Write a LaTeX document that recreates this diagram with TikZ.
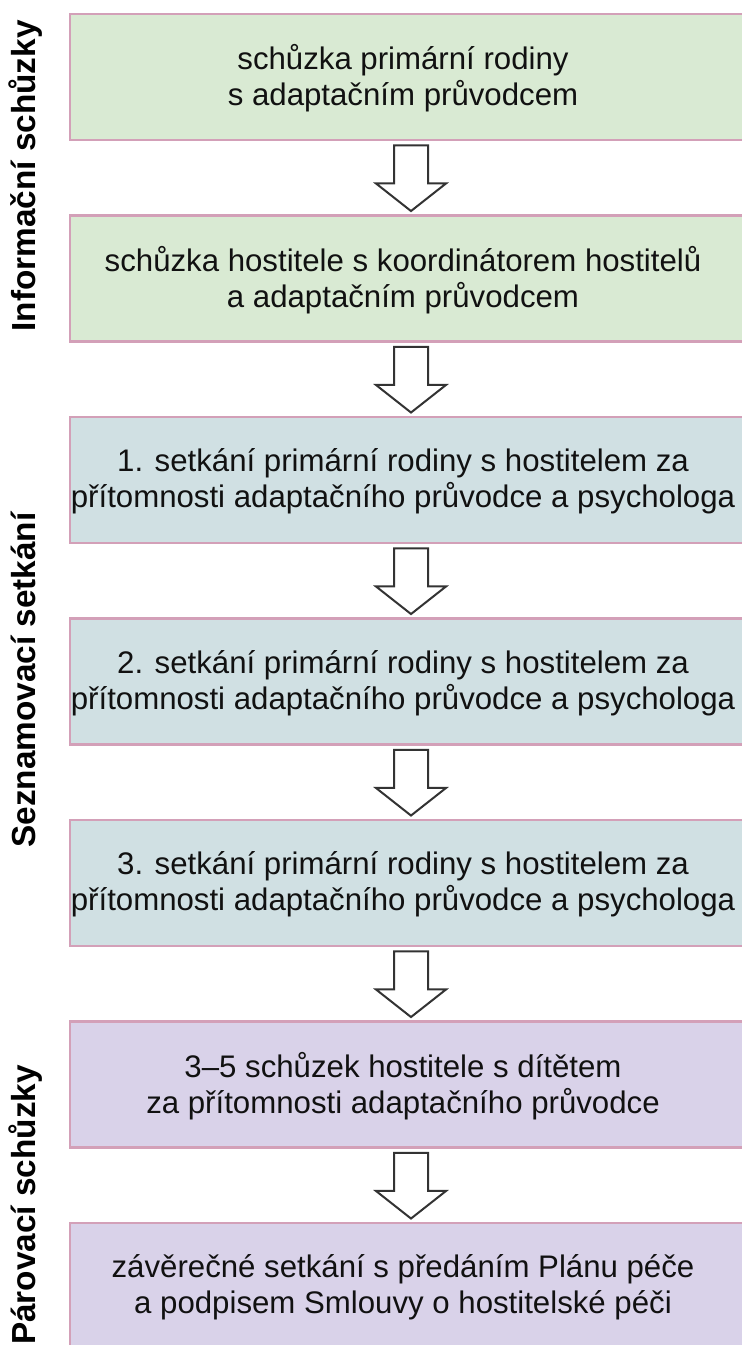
\documentclass[tikz,border=0pt]{standalone}
\usepackage{fontspec}
\setmainfont{Liberation Sans}
\usetikzlibrary{calc}
\definecolor{bordc}{HTML}{D3A0B8}
\definecolor{fgreen}{HTML}{D9EAD3}
\definecolor{fcyan}{HTML}{D0E0E3}
\definecolor{fpurple}{HTML}{D9D2E9}
\definecolor{arrc}{HTML}{333333}
\definecolor{txtc}{HTML}{111111}
\begin{document}
\begin{tikzpicture}[x=0.75pt,y=-0.75pt,
  stage/.style={draw=bordc, line width=2.2pt, minimum width=511.5pt, minimum height=94.5pt, inner sep=0pt},
  boxtext/.style={font=\fontsize{23.4pt}{27pt}\selectfont, align=center, text=txtc, xshift=-6pt, yshift=-1pt},
  phase/.style={font=\fontsize{25pt}{29pt}\selectfont\bfseries, rotate=90, anchor=base, text=black},
  blockarrow/.style={draw=arrc, fill=white, line width=1.5pt, line join=miter}]
\useasboundingbox (0,0) rectangle (742,1345);
\clip (0,0) rectangle (742,1345);

\node[stage, fill=fgreen] (b1) at (411,77)
  [label={[boxtext]center:schůzka primární rodiny\\s adaptačním průvodcem}] {};
\node[stage, fill=fgreen] (b2) at (411,278.5)
  [label={[boxtext]center:schůzka hostitele s koordinátorem hostitelů\\a adaptačním průvodcem}] {};
\node[stage, fill=fcyan] (b3) at (411,480)
  [label={[boxtext]center:1. setkání primární rodiny s hostitelem za\\přítomnosti adaptačního průvodce a psychologa}] {};
\node[stage, fill=fcyan] (b4) at (411,681.5)
  [label={[boxtext]center:2. setkání primární rodiny s hostitelem za\\přítomnosti adaptačního průvodce a psychologa}] {};
\node[stage, fill=fcyan] (b5) at (411,883)
  [label={[boxtext]center:3. setkání primární rodiny s hostitelem za\\přítomnosti adaptačního průvodce a psychologa}] {};
\node[stage, fill=fpurple] (b6) at (411,1084.5)
  [label={[boxtext]center:3–5 schůzek hostitele s dítětem\\za přítomnosti adaptačního průvodce}] {};
\node[stage, fill=fpurple] (b7) at (411,1286)
  [label={[boxtext]center:závěrečné setkání s předáním Plánu péče\\a podpisem Smlouvy o hostitelské péči}] {};

\foreach \a/\b in {b1/b2,b2/b3,b3/b4,b4/b5,b5/b6,b6/b7}{
  \draw[blockarrow] ($(\a.south)+(-17,4)$) -- ($(\a.south)+(-17,42)$) -- ($(\a.south)+(-35,42)$)
    -- ($(\b.north)+(0,-3)$) -- ($(\a.south)+(35,42)$) -- ($(\a.south)+(17,42)$)
    -- ($(\a.south)+(17,4)$) -- cycle;
}

\node[phase] (p1) at (36,176) {Informační schůzky};
\node[phase] (p2) at (36,680) {Seznamovací setkání};
\node[phase] (p3) at (36,1205) {Párovací schůzky};
\end{tikzpicture}
\end{document}
